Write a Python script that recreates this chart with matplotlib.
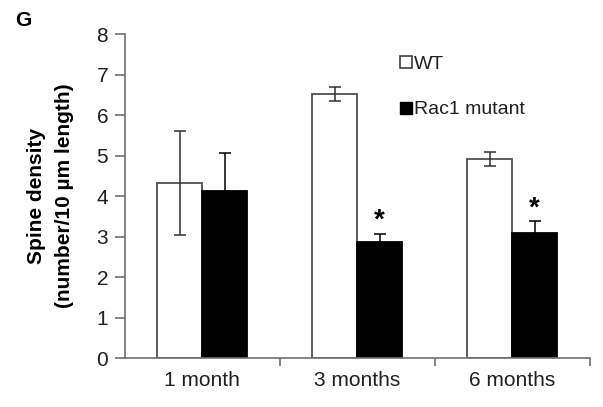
import numpy as np
import matplotlib.pyplot as plt
from matplotlib.lines import Line2D

plt.rcParams['font.family'] = ['Liberation Sans', 'DejaVu Sans']

groups = ['1 month', '3 months', '6 months']
wt_mean = [4.32, 6.52, 4.91]
wt_err = [1.28, 0.18, 0.17]
mut_mean = [4.12, 2.87, 3.08]
mut_err = [0.94, 0.2, 0.3]
signif = [False, True, True]

fig = plt.figure(figsize=(6.03, 4.07), dpi=100)
ax = fig.add_axes([0.207, 0.12, 0.771, 0.796])

x = np.arange(len(groups))
w = 0.29
axis_col = '#707070'
txt_col = '#202020'

ax.bar(x - w/2, wt_mean, w, color='white', edgecolor='#505050', linewidth=1.3,
       yerr=wt_err, error_kw=dict(ecolor='#303030', elinewidth=1.1, capsize=4, capthick=1.1))
ax.bar(x + w/2, mut_mean, w, color='black', edgecolor='black', linewidth=1.3,
       yerr=mut_err, error_kw=dict(ecolor='black', elinewidth=1.1, capsize=4, capthick=1.1))

for i, s in enumerate(signif):
    if s:
        ax.text(x[i] + w/2, mut_mean[i] + mut_err[i] + 0.32, '*', ha='center', va='center',
                fontsize=20, fontweight='bold')

ax.set_xlim(-0.5, 2.5)
ax.set_ylim(0, 8)
ax.set_yticks(range(0, 9))
ax.set_xticks(x)
ax.set_xticklabels(groups, fontsize=15, color=txt_col)
ax.set_xticks([0.5, 1.5, 2.5], minor=True)
ax.tick_params(axis='x', which='major', length=0, pad=9)
ax.tick_params(axis='x', which='minor', length=6, width=1.2, color=axis_col, direction='out')
ax.tick_params(axis='y', length=7, width=1.2, color=axis_col, labelsize=15, labelcolor=txt_col, pad=5)
for sp in ['top', 'right']:
    ax.spines[sp].set_visible(False)
for sp in ['left', 'bottom']:
    ax.spines[sp].set_color(axis_col)
    ax.spines[sp].set_linewidth(1.2)

ax.set_ylabel('Spine density\n(number/10 µm length)', fontsize=15, fontweight='bold', labelpad=16,
              linespacing=1.6)

handles = [Line2D([], [], marker='s', linestyle='none', markersize=8, markerfacecolor='white',
                  markeredgecolor='#404040', markeredgewidth=1.2),
           Line2D([], [], marker='s', linestyle='none', markersize=8, markerfacecolor='black',
                  markeredgecolor='black')]
ax.legend(handles, ['WT', 'Rac1 mutant'], loc='upper left', bbox_to_anchor=(0.555, 0.99),
          frameon=False, fontsize=14, handlelength=0.6, handletextpad=0.1, labelspacing=1.45,
          labelcolor=txt_col)

fig.text(0.025, 0.95, 'G', fontsize=15, fontweight='bold', va='center')

fig.savefig('out.png', dpi=100)
